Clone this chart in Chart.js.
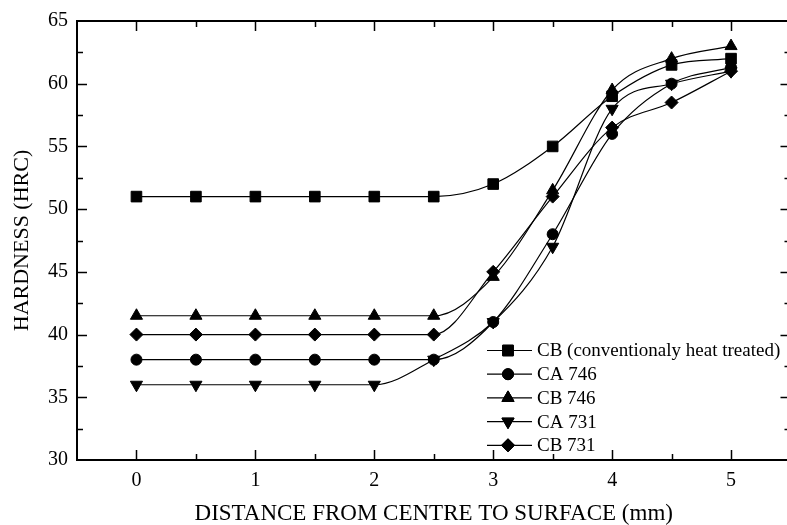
<!DOCTYPE html>
<html><head><meta charset="utf-8">
<script src="https://cdn.jsdelivr.net/npm/chart.js@4"></script>
<style>html,body{margin:0;padding:0;background:#fff;overflow:hidden}canvas{display:block}</style>
</head><body><canvas id="c" width="799" height="525" style="width:799px;height:525px"></canvas>
<script>
const distances = [0, 0.5, 1, 1.5, 2, 2.5, 3, 3.5, 4, 4.5, 5];
const seriesNames = ["CB (conventionaly heat treated)", "CA 746", "CB 746", "CA 731", "CB 731"];
const cbConventional = [51, 51, 51, 51, 51, 51, 52, 55, 59, 61.5, 62];
const ca746 = [38, 38, 38, 38, 38, 38, 41, 48, 56, 60, 61.3];
const cb746 = [41.5, 41.5, 41.5, 41.5, 41.5, 41.5, 44.6, 51.5, 59.5, 62, 63];
const ca731 = [36, 36, 36, 36, 36, 38, 41, 47, 58, 60, 61];
const cb731 = [40, 40, 40, 40, 40, 40, 45, 51, 56.5, 58.5, 61];
const xTickLabels = [0, 1, 2, 3, 4, 5];
const yTickLabels = [30, 35, 40, 45, 50, 55, 60, 65];

const FONT = "'Liberation Serif', 'Times New Roman', serif";
const styles = [
  {pointStyle: 'rect', radius: 7.5, rotation: 0},
  {pointStyle: 'circle', radius: 5.5, rotation: 0},
  {pointStyle: 'triangle', radius: 7, rotation: 0},
  {pointStyle: 'triangle', radius: 7, rotation: 180},
  {pointStyle: 'rectRot', radius: 6.5, rotation: 0}
];
const values = [cbConventional, ca746, cb746, ca731, cb731];

const datasets = values.map((arr, i) => ({
  label: seriesNames[i],
  data: distances.map((d, j) => ({x: d, y: arr[j]})),
  borderColor: '#000',
  borderWidth: 1.2,
  backgroundColor: '#000',
  pointBackgroundColor: '#000',
  pointBorderColor: '#000',
  pointBorderWidth: 1,
  pointStyle: styles[i].pointStyle,
  pointRadius: styles[i].radius,
  pointRotation: styles[i].rotation,
  cubicInterpolationMode: 'monotone',
  fill: false
}));

function drawMarker(ctx, st, x, y) {
  if (Chart.helpers && Chart.helpers.drawPoint) {
    Chart.helpers.drawPoint(ctx, {pointStyle: st.pointStyle, radius: st.radius, rotation: st.rotation, borderWidth: 1}, x, y);
    ctx.fill(); ctx.stroke();
  }
}

const framePlugin = {
  id: 'frameTicks',
  afterDraw(chart) {
    const {ctx, chartArea: a, scales: {x, y}} = chart;
    ctx.save();
    ctx.strokeStyle = '#000';
    ctx.lineWidth = 2;
    ctx.strokeRect(a.left, a.top, a.right - a.left, a.bottom - a.top);
    ctx.lineWidth = 1.5;
    ctx.beginPath();
    for (let v = x.min + 0.5; v < x.max; v += 0.5) {
      const px = Math.round(x.getPixelForValue(v)) + 0.5;
      const major = Math.abs(v - Math.round(v)) < 1e-6;
      const len = major ? 10 : 6;
      ctx.moveTo(px, a.bottom); ctx.lineTo(px, a.bottom - len);
      ctx.moveTo(px, a.top); ctx.lineTo(px, a.top + len);
    }
    for (let v = y.min + 2.5; v < y.max; v += 2.5) {
      const py = Math.round(y.getPixelForValue(v)) + 0.5;
      const major = Math.abs(v / 5 - Math.round(v / 5)) < 1e-6;
      const len = major ? 10 : 6;
      ctx.moveTo(a.left, py); ctx.lineTo(a.left + len, py);
      ctx.moveTo(a.right, py); ctx.lineTo(a.right - len, py);
    }
    ctx.stroke();

    // legend
    const rows = [350.5, 374.2, 397.9, 421.6, 445.3];
    ctx.fillStyle = '#000';
    ctx.font = '19px ' + FONT;
    ctx.textBaseline = 'middle';
    ctx.textAlign = 'left';
    chart.data.datasets.forEach((ds, i) => {
      const yy = rows[i];
      ctx.lineWidth = 1.2;
      ctx.beginPath(); ctx.moveTo(487, yy); ctx.lineTo(532, yy); ctx.stroke();
      ctx.lineWidth = 1;
      drawMarker(ctx, styles[i], 508, yy);
      ctx.fillText(ds.label, 537, yy + 1);
    });
    ctx.restore();
  }
};

new Chart(document.getElementById('c'), {
  type: 'line',
  data: {datasets},
  plugins: [framePlugin],
  options: {
    responsive: false,
    animation: false,
    events: [],
    devicePixelRatio: 1,
    layout: {padding: {top: 21, right: 1, left: 0, bottom: 0}},
    plugins: {legend: {display: false}, tooltip: {enabled: false}},
    scales: {
      x: {
        type: 'linear', min: -0.5, max: 5.5,
        grid: {display: false, drawTicks: false},
        border: {display: false},
        afterBuildTicks: s => { s.ticks = xTickLabels.map(v => ({value: v})); },
        ticks: {font: {family: FONT, size: 20}, color: '#000', padding: 9, maxRotation: 0, autoSkip: false},
        title: {display: true, text: 'DISTANCE FROM CENTRE TO SURFACE (mm)', font: {family: FONT, size: 23, lineHeight: 1}, color: '#000', padding: 0},
        afterFit: s => { s.height = 65; s.paddingLeft = 0; s.paddingRight = 0; }
      },
      y: {
        type: 'linear', min: 30, max: 65,
        grid: {display: false, drawTicks: false},
        border: {display: false},
        afterBuildTicks: s => { s.ticks = yTickLabels.map(v => ({value: v})); },
        ticks: {font: {family: FONT, size: 20}, color: '#000', padding: 9, autoSkip: false},
        title: {display: true, text: 'HARDNESS (HRC)', font: {family: FONT, size: 22, lineHeight: 1}, color: '#000', padding: {top: 11, bottom: 0}},
        afterFit: s => { s.width = 77; }
      }
    }
  }
});
</script>
</body></html>
